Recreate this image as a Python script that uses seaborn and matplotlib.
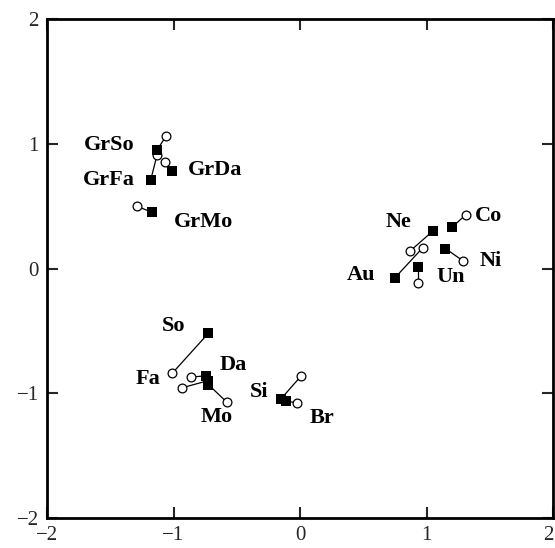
import matplotlib
matplotlib.use("Agg")
import matplotlib.pyplot as plt
import seaborn as sns
import pandas as pd

# ---- data ----
names = ["GrSo", "GrFa", "GrDa", "GrMo", "Ne", "Co", "Ni", "Au", "Un",
         "So", "Da", "Fa", "Mo", "Si", "Br"]
square_x = [-1.13, -1.18, -1.01, -1.17, 1.05, 1.20, 1.15, 0.75, 0.935,
            -0.725, -0.74, -0.73, -0.725, -0.15, -0.11]
square_y = [0.95, 0.71, 0.78, 0.45, 0.30, 0.33, 0.16, -0.075, 0.01,
            -0.52, -0.86, -0.90, -0.93, -1.045, -1.06]
circle_x = [-1.06, -1.13, -1.07, -1.29, 0.87, 1.31, 1.29, 0.97, 0.935,
            -1.01, -0.86, -0.935, -0.58, 0.01, -0.02]
circle_y = [1.06, 0.91, 0.85, 0.50, 0.14, 0.43, 0.06, 0.166, -0.115,
            -0.84, -0.87, -0.957, -1.07, -0.86, -1.08]

# label anchor positions (layout)
label_x = [-1.51, -1.51, -0.67, -0.76, 0.78, 1.49, 1.51, 0.48, 1.19,
           -1.00, -0.53, -1.20, -0.66, -0.32, 0.17]
label_y = [0.99, 0.71, 0.79, 0.37, 0.37, 0.42, 0.06, -0.056, -0.067,
           -0.457, -0.77, -0.885, -1.19, -0.99, -1.20]

ticks = [-2, -1, 0, 1, 2]

df = pd.DataFrame({"name": names, "sx": square_x, "sy": square_y,
                   "cx": circle_x, "cy": circle_y})

sns.set_style("white")
plt.rcParams["font.family"] = ["Liberation Serif", "DejaVu Serif"]

fig = plt.figure(figsize=(5.55, 5.48), dpi=100)
ax = fig.add_axes([47 / 555, 1 - 518 / 548, (553 - 47) / 555, (518 - 19) / 548])

for _, r in df.iterrows():
    ax.plot([r.sx, r.cx], [r.sy, r.cy], color="black", lw=0.9, zorder=1)

sns.scatterplot(data=df, x="cx", y="cy", marker="o", s=40,
                facecolor="white", edgecolor="black", linewidth=0.9,
                ax=ax, zorder=2, legend=False)
sns.scatterplot(data=df, x="sx", y="sy", marker="s", s=58,
                color="black", edgecolor="black", linewidth=0,
                ax=ax, zorder=3, legend=False)

for n, lx, ly in zip(names, label_x, label_y):
    ax.text(lx, ly, n, ha="center", va="center", fontsize=16,
            fontweight="bold", color="black")

ax.set_xlim(-2, 2)
ax.set_ylim(-2, 2)
ax.set_xticks(ticks)
ax.set_yticks(ticks)
ax.set_xticklabels([str(t).replace("-", "\u2212") for t in ticks])
ax.set_yticklabels([str(t).replace("-", "\u2212") for t in ticks])
ax.set_xlabel("")
ax.set_ylabel("")
ax.tick_params(direction="in", length=8, width=1.5, labelsize=15,
               top=True, right=True, bottom=True, left=True, pad=6)
xl = ax.get_xticklabels()
xl[-1].set_horizontalalignment("right")
xl[0].set_horizontalalignment("center")
for sp in ax.spines.values():
    sp.set_visible(True)
    sp.set_linewidth(2.0)
    sp.set_color("black")

fig.savefig("out.png", dpi=100)
